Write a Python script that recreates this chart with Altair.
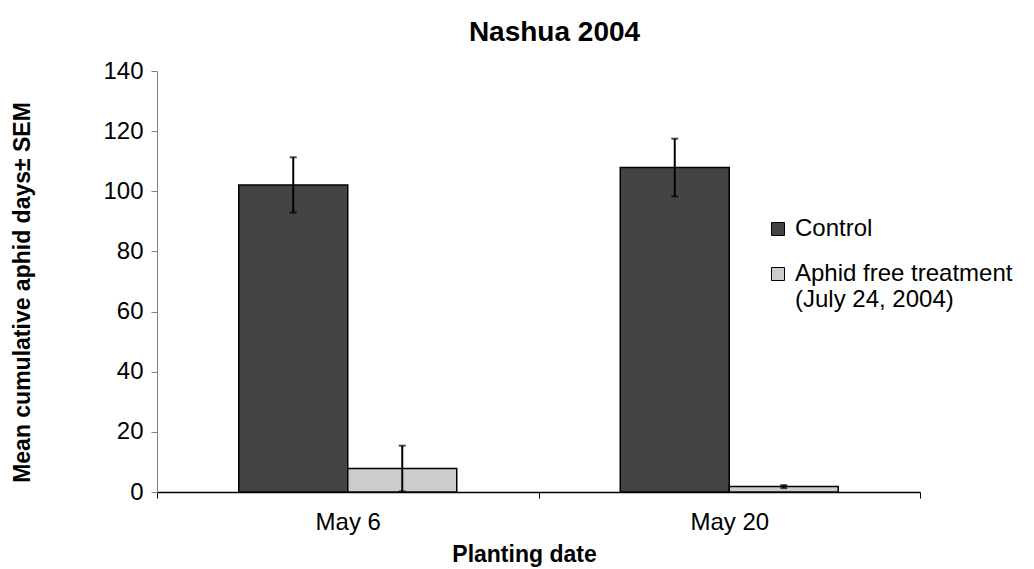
import altair as alt
import pandas as pd

dates = ["May 6", "May 20"]
series = ["Control", "Aphid free treatment"]
control_mean = [102.1, 107.9]
control_sem = [9.2, 9.6]
aphid_mean = [7.8, 1.8]
aphid_sem = [7.6, 0.5]

rows = []
for i, d in enumerate(dates):
    rows.append({"date": d, "series": series[0], "mean": control_mean[i], "sem": control_sem[i]})
    rows.append({"date": d, "series": series[1], "mean": aphid_mean[i], "sem": aphid_sem[i]})
df = pd.DataFrame(rows)
df["lo"] = df["mean"] - df["sem"]
df["hi"] = df["mean"] + df["sem"]

FONT = "Liberation Sans"

x = alt.X("date:N", sort=dates, title="Planting date",
          scale=alt.Scale(paddingInner=0, paddingOuter=0),
          axis=alt.Axis(labelAngle=0, labelFontSize=24, labelColor="black", labelFont=FONT,
                        titleFontSize=23, titleFontWeight="bold", titleColor="black", titleFont=FONT,
                        domainColor="black", domainWidth=1.5, tickColor="black", tickSize=6,
                        tickBand="extent", labelPadding=12,
                        titleX=367, titleY=69, titleBaseline="alphabetic", titleAlign="center"))
xo = alt.XOffset("series:N", sort=series, scale=alt.Scale(paddingInner=0, paddingOuter=0.75))

bars = alt.Chart(df).mark_bar(stroke="black", strokeWidth=1.5).encode(
    x=x, xOffset=xo,
    y=alt.Y("mean:Q", title="Mean cumulative aphid days± SEM",
            scale=alt.Scale(domain=[0, 140], nice=False),
            axis=alt.Axis(values=list(range(0, 141, 20)), grid=False, labelFontSize=24,
                          labelColor="black", labelFont=FONT, titleFontSize=23,
                          titleFontWeight="bold", titleColor="black", titleFont=FONT,
                          domainColor="#808080", tickColor="#808080", tickSize=6,
                          labelPadding=8, titleX=-135, titleY=221, titleBaseline="middle",
                          titleAlign="center")),
    fill=alt.Fill("series:N", sort=series,
                  scale=alt.Scale(domain=series, range=["#444444", "#cccccc"]),
                  legend=alt.Legend(title=None, orient="none", legendX=609, legendY=146,
                                    symbolType="square", symbolSize=169, symbolStrokeColor="black",
                                    symbolStrokeWidth=1, labelFontSize=24, labelFont=FONT,
                                    labelColor="black", rowPadding=21, labelOffset=5, labelLimit=0,
                                    labelExpr="datum.label == 'Aphid free treatment' ? ['Aphid free treatment', '(July 24, 2004)'] : datum.label")),
)

rules = alt.Chart(df).mark_rule(color="black", strokeWidth=2).encode(
    x=alt.X("date:N", sort=dates), xOffset=xo, y="lo:Q", y2="hi:Q")
caps_hi = alt.Chart(df).mark_tick(color="black", thickness=2, size=7, orient="horizontal").encode(
    x=alt.X("date:N", sort=dates), xOffset=xo, y="hi:Q")
caps_lo = alt.Chart(df).mark_tick(color="black", thickness=2, size=7, orient="horizontal").encode(
    x=alt.X("date:N", sort=dates), xOffset=xo, y="lo:Q")

chart = alt.layer(bars, rules, caps_hi, caps_lo).properties(
    width=763, height=421,
    title=alt.TitleParams("Nashua 2004", fontSize=28, font=FONT, fontWeight="bold",
                          color="black", offset=12, dx=16),
    autosize=alt.AutoSizeParams(type="none"),
    padding={"left": 149, "top": 63, "right": 100, "bottom": 76},
).configure(background="white").configure_view(stroke=None)

chart.save("out.html", embed_options={"renderer": "svg", "actions": False})
